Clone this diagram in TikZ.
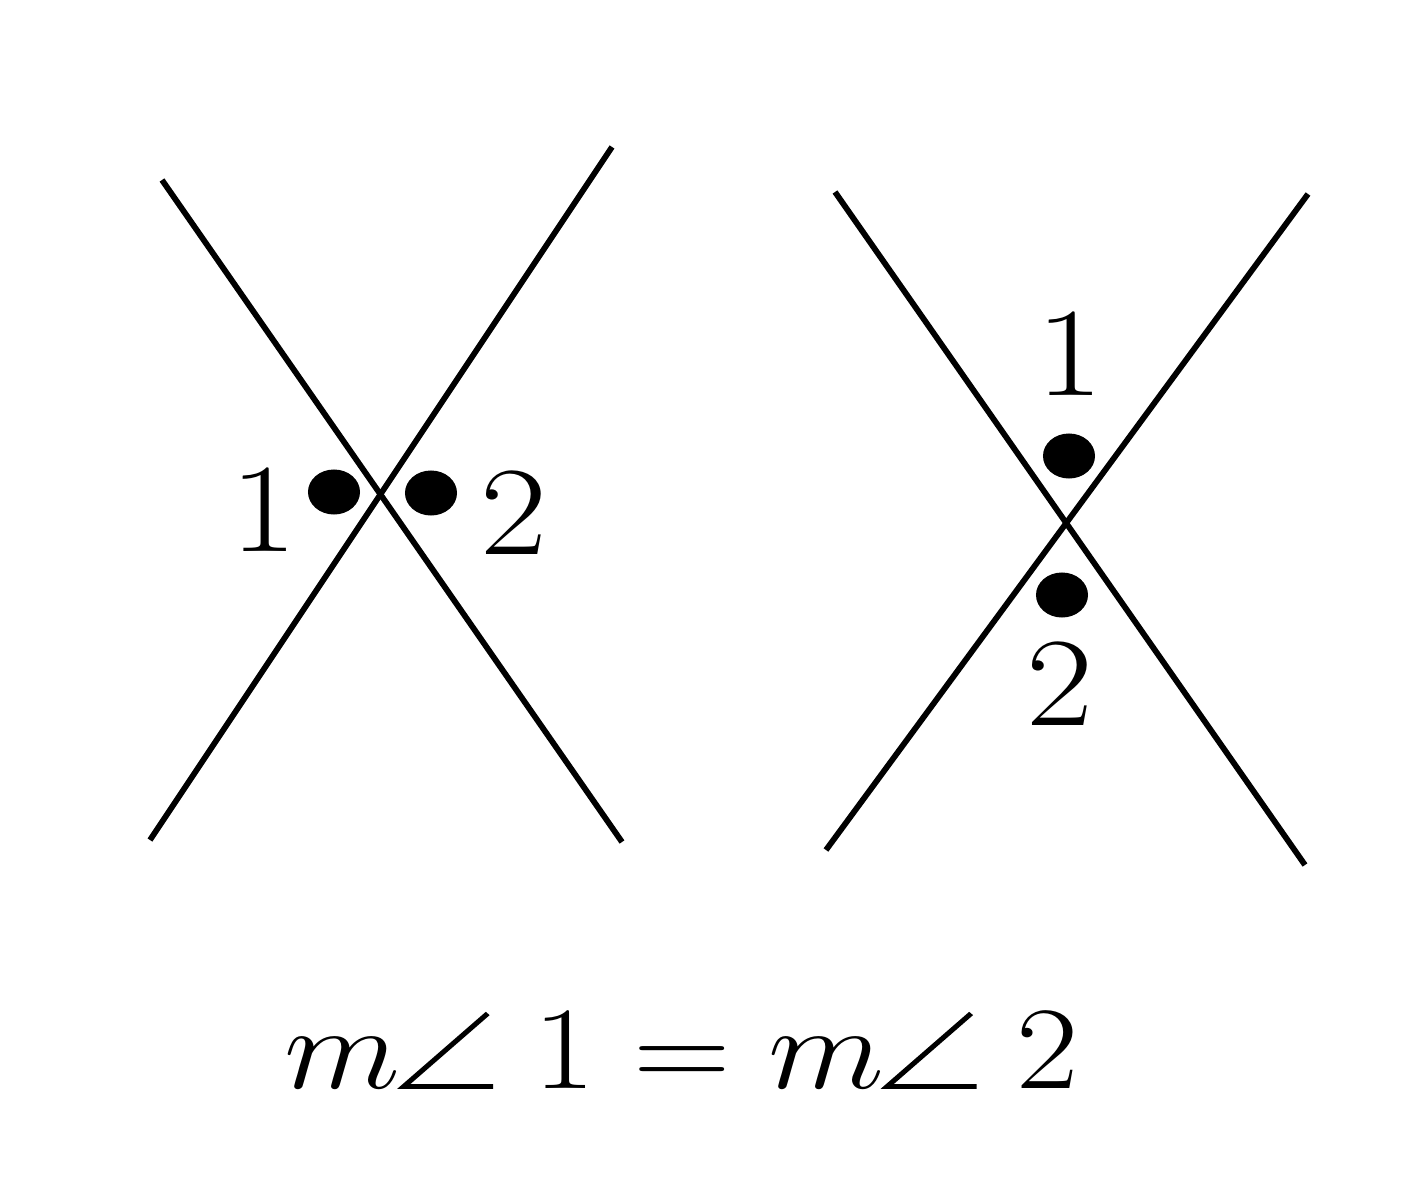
\RequirePackage{fix-cm}
\documentclass[tikz,border=0pt]{standalone}
\usepackage{tikz}
\usetikzlibrary{positioning,shapes.geometric}
\newcommand{\widetext}[1]{\scalebox{1.15}[1]{#1}}
\newcommand{\angsym}{\mathord{\tikz[baseline=0pt,x=1em,y=1em]\draw[line width=0.04em] (0.64,0.64) -- (0.02,0.02) -- (0.68,0.02);}}

\begin{document}
\begin{tikzpicture}[x=0.01cm,y=-0.01cm,
		ray/.style={line width=1.65pt},
		vdot/.style={ellipse,fill=black,inner sep=0pt,minimum width=0.52cm,minimum height=0.45cm},
		lbl/.style={inner sep=0pt,font=\fontsize{36}{40}\selectfont}]
		\useasboundingbox (0,0) rectangle (1414,1200);
		%Left pair of lines
		\coordinate (la1) at (162,180);
		\coordinate (la2) at (622,842);
		\coordinate (lb1) at (150,840);
		\coordinate (lb2) at (612,147);
		\draw[ray] (la1) -- (la2);
		\draw[ray] (lb1) -- (lb2);
		\node[vdot] (ldot1) at (334,492) {};
		\node[vdot] (ldot2) at (431,493) {};
		\node[lbl] (lone) at (264,511) {\widetext{$1$}};
		\node[lbl] (ltwo) at (514,514) {\widetext{$2$}};
		
		%Right pair of lines
		\coordinate (ra1) at (835,192);
		\coordinate (ra2) at (1305,865);
		\coordinate (rb1) at (826,850);
		\coordinate (rb2) at (1308,194);
		\draw[ray] (ra1) -- (ra2);
		\draw[ray] (rb1) -- (rb2);
		\node[vdot] (rdot1) at (1069,456) {};
		\node[vdot] (rdot2) at (1062,595) {};
		\node[lbl] (rone) at (1070,355) {\widetext{$1$}};
		\node[lbl] (rtwo) at (1060,685) {\widetext{$2$}};
		
		%equation
		\node[lbl,font=\fontsize{33.5}{38}\selectfont] (eq) at (682,1050) {\widetext{$m\angsym\;1 = m\angsym\;2$}};
\end{tikzpicture}
\end{document}
